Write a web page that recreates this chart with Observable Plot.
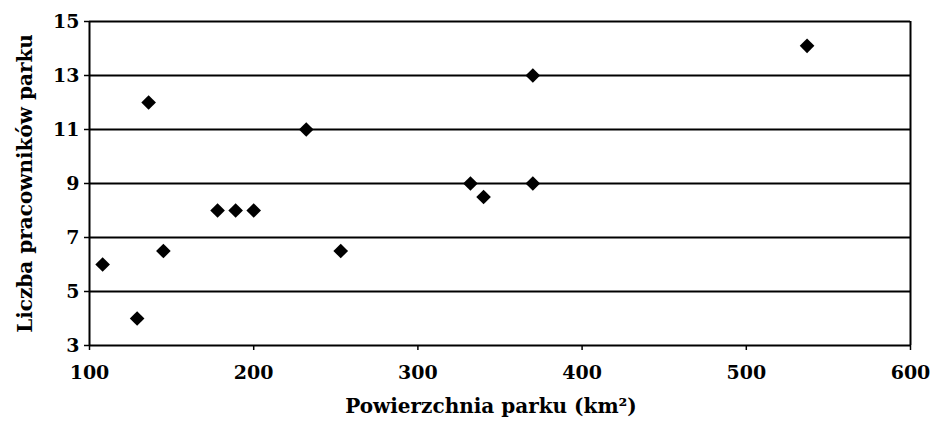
<!DOCTYPE html>
<html><head><meta charset="utf-8">
<script src="https://cdn.jsdelivr.net/npm/d3@7"></script>
<script src="https://cdn.jsdelivr.net/npm/@observablehq/plot@0.6"></script>
<style>
body{margin:0;background:#fff;}
svg{font-family:"DejaVu Serif",serif;}
</style></head>
<body><div id="chart"></div>
<script>
const area = [108, 129, 136, 145, 178, 189, 200, 232, 253, 332, 340, 370, 370, 537];
const workers = [6, 4, 12, 6.5, 8, 8, 8, 11, 6.5, 9, 8.5, 9, 13, 14.1];
const xTicks = [100, 200, 300, 400, 500, 600];
const yTicks = [3, 5, 7, 9, 11, 13, 15];
const xLabel = "Powierzchnia parku (km²)";
const yLabel = "Liczba pracowników parku";

const data = area.map((a, i) => ({area: a, workers: workers[i]}));

const chart = Plot.plot({
  width: 934, height: 430,
  marginLeft: 89, marginRight: 24, marginTop: 21, marginBottom: 85,
  style: {fontFamily: "'DejaVu Serif', serif", fontWeight: "bold", color: "#000", background: "#fff"},
  x: {domain: [100, 600], ticks: xTicks},
  y: {domain: [3, 15], ticks: yTicks},
  marks: [
    Plot.ruleY(yTicks, {stroke: "#000", strokeWidth: 2}),
    Plot.ruleX([100, 600], {y1: 3, y2: 15, stroke: "#000", strokeWidth: 2}),
    Plot.axisX({ticks: xTicks, tickSize: 5, tickPadding: 15, fontSize: 19, strokeWidth: 1.5, label: null}),
    Plot.axisY({ticks: yTicks, tickSize: 5, tickPadding: 5, fontSize: 19, strokeWidth: 1.5, label: null}),
    Plot.text([xLabel], {frameAnchor: "bottom", dy: 67, dx: -9, fontSize: 20, fontWeight: "bold", fill: "#000"}),
    Plot.text([yLabel], {frameAnchor: "left", textAnchor: "middle", dx: -64, rotate: -90, fontSize: 20, fontWeight: "bold", fill: "#000"}),
    Plot.dot(data, {x: "area", y: "workers", symbol: "diamond2", r: 6.6, fill: "#000", stroke: "none"})
  ]
});
document.getElementById("chart").appendChild(chart);
</script></body></html>
